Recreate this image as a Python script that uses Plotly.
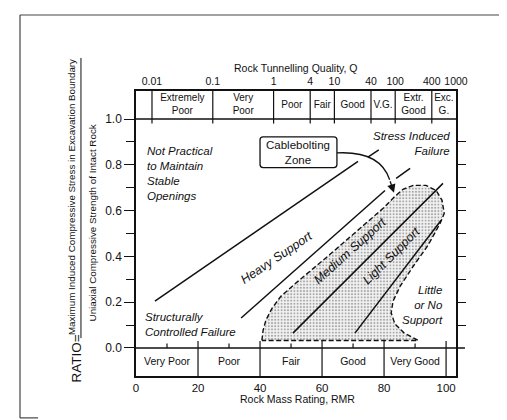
import plotly.graph_objects as go

# ---------------- data ----------------
rmr_ticks = [0, 20, 40, 60, 80, 100]
rmr_class_edges = [20, 40, 60, 80, 100]
rmr_class_mid = [10, 30, 50, 70, 90]
rmr_class_labels = ["Very Poor", "Poor", "Fair", "Good", "Very Good"]
rmr_minor = [10, 30, 50, 70, 90]

q_tick_vals = [0.01, 0.1, 1, 4, 10, 40, 100, 400, 1000]
q_tick_text = ["0.01", "0.1", "1", "4", "10", "40", "100", "400", "1000"]
q_class_lo = [0.01, 0.1, 1, 4, 10, 40, 100, 400]
q_class_hi = [0.1, 1, 4, 10, 40, 100, 400, 1000]
q_class_labels = ["Extremely<br>Poor", "Very<br>Poor", "Poor", "Fair", "Good", "V.G.",
                  "Extr.<br>Good", "Exc.<br>G."]

ratio_ticks = [0.0, 0.2, 0.4, 0.6, 0.8, 1.0]
ratio_tick_text = ["0.0", "0.2", "0.4", "0.6", "0.8", "1.0"]
ratio_minor = [0.1, 0.3, 0.5, 0.7, 0.9]
ratio_right_ticks = [0.1, 0.2, 0.3, 0.4, 0.5, 0.6, 0.7, 0.8, 0.9]

line1_rmr = [6.1, 71.6]
line1_ratio = [0.205, 0.815]
line1_ext_rmr = [74.8, 78.3]
line1_ext_ratio = [0.834, 0.865]
line2_rmr = [33.9, 80.3]
line2_ratio = [0.131, 0.688]
line2_ext_rmr = [83.9, 88.4]
line2_ext_ratio = [0.741, 0.784]
line3_rmr = [50.6, 99.0]
line3_ratio = [0.065, 0.719]
line4_rmr = [70.6, 98.4]
line4_ratio = [0.065, 0.558]

cable_rmr = [40.6, 41.0, 41.9, 43.9, 46.8, 52.3, 61.9, 71.6, 79.7, 83.5, 86.1, 89.4,
             93.5, 96.8, 98.7, 99.4, 98.1, 94.2, 89.4, 85.2, 82.9, 82.3, 83.5, 86.5,
             90.3, 91.0, 40.6]
cable_ratio = [0.033, 0.078, 0.122, 0.174, 0.227, 0.292, 0.401, 0.514, 0.610, 0.662,
               0.693, 0.710, 0.710, 0.688, 0.645, 0.588, 0.545, 0.449, 0.357, 0.270,
               0.205, 0.153, 0.105, 0.065, 0.039, 0.033, 0.033]

# ---------------- figure ----------------
INK = "#111111"
FONT = "Liberation Sans, Arial, Helvetica, sans-serif"
YLO, YHI = -0.1223, 1.1223
fig = go.Figure()

# cablebolting zone (stippled)
fig.add_trace(go.Scatter(
    x=cable_rmr, y=cable_ratio, mode="lines", fill="toself",
    fillpattern=dict(shape=".", size=3.2, solidity=0.3, fgcolor="#5a5a5a", bgcolor="#f2f2f2"),
    line=dict(color=INK, width=1.4, dash="5px,2.5px"), hoverinfo="skip"))

for xs, ys in [(line1_rmr, line1_ratio), (line1_ext_rmr, line1_ext_ratio),
               (line2_rmr, line2_ratio), (line2_ext_rmr, line2_ext_ratio),
               (line3_rmr, line3_ratio), (line4_rmr, line4_ratio)]:
    fig.add_trace(go.Scatter(x=xs, y=ys, mode="lines",
                             line=dict(color=INK, width=1.5), hoverinfo="skip"))

# RMR class band at the bottom
for e in rmr_class_edges:
    fig.add_trace(go.Scatter(x=[e, e], y=[YLO, 0.03], mode="lines",
                             line=dict(color=INK, width=1.2), hoverinfo="skip"))
for m in rmr_minor:
    fig.add_trace(go.Scatter(x=[m, m], y=[0, 0.02], mode="lines",
                             line=dict(color=INK, width=1.2), hoverinfo="skip"))
fig.add_trace(go.Scatter(x=rmr_class_mid, y=[-0.061] * len(rmr_class_mid), mode="text",
                         text=rmr_class_labels,
                         textfont=dict(family=FONT, size=10.5, color=INK), hoverinfo="skip"))

# Q class band at the top (log axis x2)
for e in q_class_lo:
    fig.add_trace(go.Scatter(x=[e, e], y=[0.98, YHI], mode="lines", xaxis="x2", yaxis="y",
                             line=dict(color=INK, width=1.2), hoverinfo="skip"))
q_mid = [(lo * hi) ** 0.5 for lo, hi in zip(q_class_lo, q_class_hi)]
fig.add_trace(go.Scatter(x=q_mid, y=[1.061] * len(q_mid), mode="text", xaxis="x2", yaxis="y",
                         text=q_class_labels,
                         textfont=dict(family=FONT, size=10, color=INK), hoverinfo="skip"))

# ---------------- shapes ----------------
shapes = []
shapes.append(dict(type="line", xref="paper", yref="y", x0=0, x1=1.028, y0=0, y1=0,
                   line=dict(color=INK, width=1.5)))
shapes.append(dict(type="line", xref="paper", yref="y", x0=0, x1=1, y0=1.0, y1=1.0,
                   line=dict(color=INK, width=1.4)))
bx0, bx1, by0, by1, rx, ry = 40.0, 64.8, 0.788, 0.922, 1.0, 0.013
shapes.append(dict(type="path", xref="x", yref="y",
                   path=(f"M {bx0+rx},{by1} L {bx1-rx},{by1} Q {bx1},{by1} {bx1},{by1-ry} "
                         f"L {bx1},{by0+ry} Q {bx1},{by0} {bx1-rx},{by0} L {bx0+rx},{by0} "
                         f"Q {bx0},{by0} {bx0},{by0+ry} L {bx0},{by1-ry} Q {bx0},{by1} {bx0+rx},{by1} Z"),
                   line=dict(color=INK, width=1.3), fillcolor="white"))
shapes.append(dict(type="path", xref="x", yref="y",
                   path="M 64.8,0.852 Q 78.7,0.862 81.8,0.735",
                   line=dict(color=INK, width=1.3)))
# y-title fraction bar and frame
shapes.append(dict(type="line", xref="paper", yref="paper", x0=-0.172, x1=-0.172,
                   y0=0.133, y1=1.116, line=dict(color=INK, width=1)))
shapes.append(dict(type="line", xref="paper", yref="paper", x0=-0.3625, x1=-0.3625,
                   y0=-0.147, y1=1.2667, line=dict(color="#444", width=1.2)))
shapes.append(dict(type="line", xref="paper", yref="paper", x0=-0.3625, x1=1.1625,
                   y0=1.2667, y1=1.2667, line=dict(color="#444", width=1.2)))
shapes.append(dict(type="line", xref="paper", yref="paper", x0=-0.3625, x1=-0.306,
                   y0=-0.147, y1=-0.147, line=dict(color="#444", width=1.2)))

# ---------------- annotations ----------------
ann = []

def txt(x, y, s, size=12, xanchor="center", italic=True, angle=0, xref="x", yref="y",
        yanchor="middle", align="center"):
    ann.append(dict(x=x, y=y, xref=xref, yref=yref, text=(f"<i>{s}</i>" if italic else s),
                    showarrow=False, xanchor=xanchor, yanchor=yanchor, textangle=angle,
                    align=align, font=dict(family=FONT, size=size, color=INK)))

txt(3.0, 0.895, "Not Practical<br>to Maintain<br>Stable<br>Openings", size=11.5,
    xanchor="left", yanchor="top", align="left")
txt(2.4, 0.171, "Structurally<br>Controlled Failure", size=11.5,
    xanchor="left", yanchor="top", align="left")
txt(101.8, 0.962, "Stress Induced<br>Failure", size=11.5,
    xanchor="right", yanchor="top", align="right")
txt(99.8, 0.290, "Little<br>or No<br>Support", size=11.5,
    xanchor="right", yanchor="top", align="right")
txt(52.4, 0.855, "Cablebolting<br>Zone", size=11.5, italic=False)
txt(45.2, 0.393, "Heavy Support", size=12.5, angle=-34)
txt(69.0, 0.424, "Medium Support", size=12.5, angle=-42)
txt(82.3, 0.402, "Light Support", size=12.5, angle=-45)

ann.append(dict(x=83.2, y=0.678, ax=81.8, ay=0.735, xref="x", yref="y", axref="x", ayref="y",
                text="", showarrow=True, arrowhead=2, arrowsize=1.3, arrowwidth=1.3,
                arrowcolor=INK))

txt(0.5, 1.081, "Rock Tunnelling Quality, Q", size=10.5, italic=False, xref="paper", yref="paper")
txt(0.506, -0.081, "Rock Mass Rating, RMR", size=10.5, italic=False, xref="paper", yref="paper")
txt(-0.203, 0.628, "Maximum Induced Compressive Stress in Excavation Boundary", size=9.8,
    italic=False, angle=-90, xref="paper", yref="paper")
txt(-0.136, 0.537, "Uniaxial Compressive Strength of Intact Rock", size=9.8,
    italic=False, angle=-90, xref="paper", yref="paper")
txt(-0.186, 0.063, "RATIO=", size=13.5, italic=False, angle=-90, xref="paper", yref="paper")

fig.update_layout(
    width=507, height=420,
    margin=dict(l=128, r=59, t=83, b=52),
    paper_bgcolor="white", plot_bgcolor="white", showlegend=False,
    font=dict(family=FONT, color=INK),
    shapes=shapes, annotations=ann,
    xaxis=dict(range=[0, 103.2], tickvals=rmr_ticks, ticks="", showgrid=False, zeroline=False,
               showline=True, linecolor=INK, linewidth=1.5,
               tickfont=dict(family=FONT, size=11.5, color=INK)),
    xaxis2=dict(type="log", range=[-2.263, 3.0], overlaying="x", side="top", anchor="y",
                tickvals=q_tick_vals, ticktext=q_tick_text, ticks="", showgrid=False,
                zeroline=False, showline=True, linecolor=INK, linewidth=1.5,
                tickfont=dict(family=FONT, size=10.5, color=INK)),
    yaxis=dict(range=[YLO, YHI], tickvals=ratio_ticks, ticktext=ratio_tick_text,
               ticks="outside", ticklen=10, tickwidth=1.3, tickcolor=INK,
               minor=dict(tickvals=ratio_minor, ticks="outside", ticklen=8, tickwidth=1.2,
                          tickcolor=INK),
               showgrid=False, zeroline=False, showline=True, linecolor=INK, linewidth=1.5,
               tickfont=dict(family=FONT, size=12, color=INK)),
    yaxis2=dict(range=[YLO, YHI], overlaying="y", side="right", anchor="x",
                tickvals=ratio_right_ticks, showticklabels=False, ticks="outside",
                ticklen=8, tickwidth=1.2, tickcolor=INK, showgrid=False, zeroline=False,
                showline=True, linecolor=INK, linewidth=1.5),
)
fig.add_trace(go.Scatter(x=[None], y=[None], yaxis="y2", xaxis="x", hoverinfo="skip"))

fig.write_html("out.html")
